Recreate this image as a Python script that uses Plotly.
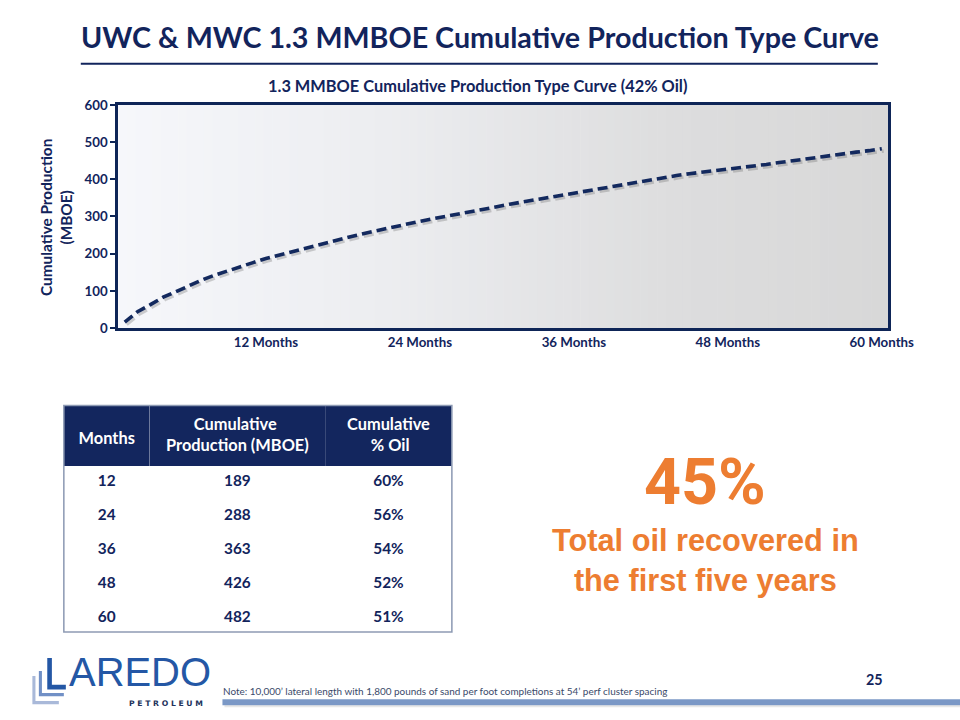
import plotly.graph_objects as go

# The page is photographed with a small constant scale/offset; positions below
# are given in target-picture pixels and converted to figure coordinates.
S = 0.976
CX, CY = -1.0, 8.3
W, H = 984, 729

# ---------------- data ----------------
months = list(range(1, 61))
cum_prod = [16, 44, 63, 83, 98, 114, 129, 142, 154, 165,
            176, 187, 196, 206, 215, 224, 233, 241, 249, 257,
            265, 273, 280, 287, 294, 300, 307, 313, 319, 326,
            333, 339, 345, 351, 357, 363, 370, 376, 382, 388,
            393, 399, 404, 410, 415, 419, 422, 426, 430, 435,
            440, 445, 450, 454, 459, 463, 468, 473, 477, 482]
tick_months = [12, 24, 36, 48, 60]
tick_labels = ["12 Months", "24 Months", "36 Months", "48 Months", "60 Months"]
y_ticks = [0, 100, 200, 300, 400, 500, 600]

table_months = ["12", "24", "36", "48", "60"]
table_prod = ["189", "288", "363", "426", "482"]
table_oil = ["60%", "56%", "54%", "52%", "51%"]
NB = "\u00a0"

def px(x):
    return ((x - CX) / S) / W

def py(y):
    return 1 - ((y - CY) / S) / H

def fs(v):
    return v / S

HDR = fs(16)
table_header = [NB + "<br><span style='font-size:%.2fpx'>Months</span>" % HDR,
                NB * 7 + "Cumulative<br>Production (MBOE)",
                "Cumulative<br>" + NB * 6 + "% Oil"]

NAVY = "#12245C"
FRAME = "#0E2557"
ORANGE = "#ED7D31"
FONT = "Lato"

fig = go.Figure()
fig.add_trace(go.Scatter(
    x=[m + 0.15 for m in months], y=[v - 6 for v in cum_prod],
    mode="lines", line=dict(color="rgba(90,90,90,0.28)", width=fs(3.5), dash="10px,5px"),
    hoverinfo="skip", showlegend=False))
fig.add_trace(go.Scatter(
    x=months, y=cum_prod, mode="lines",
    line=dict(color="#13295E", width=fs(3.5), dash="10px,5px"),
    showlegend=False))

fig.add_trace(go.Table(
    domain=dict(x=[px(63), px(452)], y=[py(631), py(405)]),
    columnwidth=[86, 176, 127],
    header=dict(values=table_header, fill_color="#13265E", line=dict(color="#13265E", width=0),
                font=dict(family=FONT, size=[fs(13), HDR, HDR], color="white", weight="bold"),
                align="center", height=fs(59)),
    cells=dict(values=[table_months, table_prod, table_oil], fill_color="white",
               line=dict(color="white", width=0),
               font=dict(family=FONT, size=fs(15), color=NAVY, weight="bold"),
               align="center", height=fs(33.4))))

shapes = []
x0p, x1p = 117.6, 889.4
n = 90
stops = [(0.0, (246, 247, 251)), (0.35, (236, 237, 240)), (0.72, (221, 221, 222)), (1.0, (216, 216, 216))]
def col(t):
    for i in range(len(stops) - 1):
        a, ca = stops[i]
        b, cb = stops[i + 1]
        if a <= t <= b:
            f = (t - a) / (b - a)
            return "rgb(%d,%d,%d)" % tuple(round(ca[k] + f * (cb[k] - ca[k])) for k in range(3))
    return "rgb(216,216,216)"
for i in range(n):
    xa = x0p + (x1p - x0p) * i / n
    xb = x0p + (x1p - x0p) * (i + 1) / n + 0.6
    shapes.append(dict(type="rect", xref="paper", yref="paper", x0=px(xa), x1=px(xb),
                       y0=py(327.7), y1=py(105), fillcolor=col((i + 0.5) / n),
                       line=dict(width=0), layer="below"))
shapes.append(dict(type="line", xref="paper", yref="paper", x0=px(80), x1=px(879),
                   y0=py(64), y1=py(64), line=dict(color=NAVY, width=fs(2))))
shapes.append(dict(type="rect", xref="paper", yref="paper", x0=px(63), x1=px(452),
                   y0=py(631), y1=py(405), line=dict(color="#8E9BB4", width=fs(1.5))))
shapes.append(dict(type="rect", xref="paper", yref="paper", x0=px(222), x1=1.01,
                   y0=py(704), y1=py(698), fillcolor="#7B98C6", line=dict(width=0)))
shapes.append(dict(type="rect", xref="paper", yref="paper", x0=px(224), x1=1.01,
                   y0=py(706), y1=py(704), fillcolor="rgba(120,120,120,0.18)", line=dict(width=0)))
def lshape(xv, ytop, ybot, xr, color, w):
    shapes.append(dict(type="path", xref="paper", yref="paper",
                       path="M %f %f L %f %f L %f %f" % (px(xv), py(ytop), px(xv), py(ybot), px(xr), py(ybot)),
                       line=dict(color=color, width=fs(w))))
lshape(33, 675, 701.5, 58, "#A9B9D9", 3)
lshape(39.5, 670, 693.5, 63, "#7190C6", 3)
lshape(48.7, 657, 686, 65, "#2457A5", 4.5)

ann = []
def note(text, x, y, size, family=FONT, color=NAVY, xanchor="center", angle=0):
    ann.append(dict(text=text, x=px(x), y=py(y), xref="paper", yref="paper", showarrow=False,
                    xanchor=xanchor, yanchor="middle", textangle=angle,
                    font=dict(family=family, size=fs(size), color=color)))
note("<b>UWC & MWC 1.3 MMBOE Cumulative Production Type Curve</b>", 480, 37, 28)
note("<b>1.3 MMBOE Cumulative Production Type Curve (42% Oil)</b>", 478, 86, 16)
note("<b>Cumulative Production<br>(MBOE)</b>", 55, 217, 15, angle=-90)
note("<b>45%</b>", 706, 481, 63, family="Roboto", color=ORANGE)
note("<b>Total oil recovered in<br>the first five years</b>", 706, 560, 30, family="Liberation Sans", color=ORANGE)
note("Note: 10,000’ lateral length with 1,800 pounds of sand per foot completions at 54’ perf cluster spacing",
     221, 690, 9.7, color="#3A4A6A", xanchor="left")
note("<b>25</b>", 876, 678, 14)
note("AREDO", 66, 670.5, 39, family="Liberation Sans", color="#2457A5", xanchor="left")
note("<b>P E T R O L E U M</b>", 205, 702, 7.5, family="DejaVu Sans", color="#22325A", xanchor="right")

fig.update_layout(
    width=W, height=H, autosize=False,
    margin=dict(l=0, r=0, t=0, b=0),
    paper_bgcolor="white", plot_bgcolor="rgba(0,0,0,0)",
    showlegend=False,
    shapes=shapes, annotations=ann,
    xaxis=dict(domain=[px(117.6), px(889.4)], range=[0.5, 60.5],
               tickmode="array", tickvals=tick_months, ticktext=tick_labels,
               showgrid=False, zeroline=False, showline=True, mirror=True,
               linecolor=FRAME, linewidth=fs(2.5), ticks="",
               tickfont=dict(family=FONT, size=fs(13), color=NAVY, weight="bold")),
    yaxis=dict(domain=[py(327.7), py(105)], range=[0, 600],
               tickmode="array", tickvals=y_ticks,
               showgrid=False, zeroline=False, showline=True, mirror=True,
               linecolor=FRAME, linewidth=fs(2.5), ticks="outside", ticklen=fs(5), tickwidth=fs(1.5),
               tickcolor=FRAME,
               tickfont=dict(family=FONT, size=fs(13), color=NAVY, weight="bold")),
)

fig.write_html("out.html")
